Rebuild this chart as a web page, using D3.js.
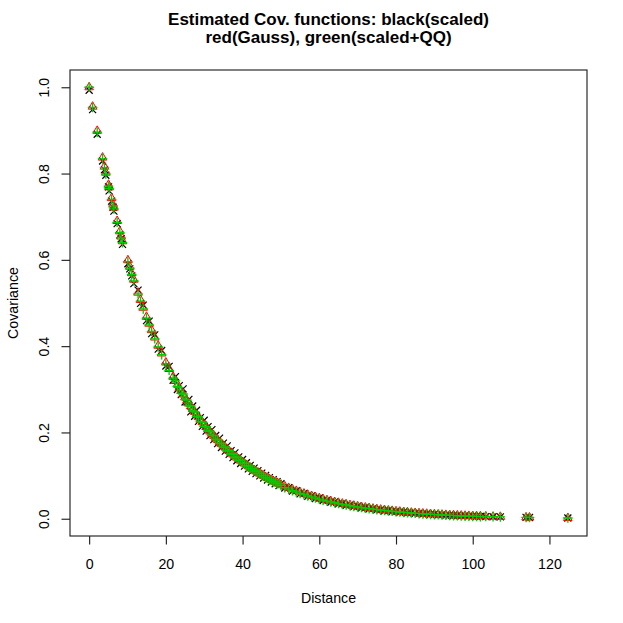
<!DOCTYPE html>
<html>
<head>
<meta charset="utf-8">
<script src="https://cdn.jsdelivr.net/npm/d3@7"></script>
<style>
  body { margin: 0; background: #fff; }
  text { font-family: "Liberation Sans", Arial, Helvetica, sans-serif; }
</style>
</head>
<body>
<div id="viz"></div>
<script>
// distances between location pairs
const distance = [
  0, 0.9, 2.1, 3.5, 4.0, 4.35, 5.05, 5.2, 5.85, 6.25, 6.45, 7.3, 8.0, 8.35, 8.7,
  10.1, 10.6, 11.1, 11.65, 12.75, 13.4, 14.1, 14.95, 15.65, 16.3, 17.1, 18.0, 18.9, 20.0, 20.85, 21.9,
  22.5, 23.0, 23.5, 24.0, 24.5, 25.0, 25.5, 26.0, 26.5, 27.0, 27.5, 28.0, 28.5, 29.0, 29.5, 30.0,
  30.5, 31.0, 31.5, 32.0, 32.5, 33.0, 33.5, 34.0, 34.5, 35.0, 35.5, 36.0, 36.5, 37.0, 37.5, 38.0,
  38.5, 39.0, 39.5, 40.0, 40.5, 41.0, 41.5, 42.0, 42.5, 43.0, 43.5, 44.0, 44.5, 45.0, 45.5, 46.0,
  46.5, 47.0, 47.5, 48.0, 48.5, 49.0, 49.5, 50.0,
  51, 52, 53, 54, 55, 56, 57, 58, 59, 60, 61, 62, 63, 64, 65, 66, 67, 68, 69, 70,
  71, 72, 73, 74, 75, 76, 77, 78, 79, 80, 81, 82, 83, 84, 85, 86, 87, 88, 89, 90,
  91, 92, 93, 94, 95, 96, 97, 98, 99, 100, 101, 102,
  103.4, 105.3, 107.2, 113.9, 114.8, 124.8
]

// black: scaled estimate
const covScaled = [
  0.993, 0.948, 0.891, 0.829, 0.809, 0.796, 0.769, 0.760, 0.736, 0.722, 0.713, 0.684, 0.658, 0.649, 0.636,
  0.591, 0.579, 0.563, 0.545, 0.530, 0.499, 0.495, 0.459, 0.458, 0.429, 0.426, 0.393, 0.390, 0.354, 0.353, 0.321,
  0.3295, 0.2995, 0.3085, 0.2876, 0.3010, 0.2705, 0.2710, 0.2768, 0.2475, 0.2612, 0.2376, 0.2515, 0.2258, 0.2342, 0.2140, 0.2282,
  0.2030, 0.2136, 0.1928, 0.2064, 0.1832, 0.1930, 0.1740, 0.1870, 0.1650, 0.1752, 0.1566, 0.1690, 0.1490, 0.1580, 0.1416, 0.1525,
  0.1345, 0.1434, 0.1280, 0.1373, 0.1218, 0.1298, 0.1156, 0.1236, 0.1099, 0.1172, 0.1044, 0.1116, 0.0993, 0.1058, 0.0944, 0.1003,
  0.0897, 0.0952, 0.0852, 0.0904, 0.0810, 0.0859, 0.0771, 0.0815,
  0.0712, 0.0722, 0.0640, 0.0652, 0.0576, 0.0588, 0.0520, 0.0530, 0.0469, 0.0480, 0.0423, 0.0433, 0.0382, 0.0391, 0.0344, 0.0354, 0.0310, 0.0320, 0.0280, 0.0290,
  0.0252, 0.0260, 0.0228, 0.0235, 0.0205, 0.0212, 0.0186, 0.0192, 0.0168, 0.0173, 0.0151, 0.0156, 0.0137, 0.0141, 0.0123, 0.0127, 0.0111, 0.0115, 0.0100, 0.0104,
  0.0091, 0.0093, 0.0082, 0.0084, 0.0074, 0.0076, 0.0067, 0.0069, 0.0060, 0.0062, 0.0054, 0.0056,
  0.0050, 0.0047, 0.0042, 0.0030, 0.0028, 0.0017
]

// red: Gauss
const covGauss = [
  1.000, 0.955, 0.899, 0.837, 0.816, 0.802, 0.774, 0.768, 0.743, 0.728, 0.721, 0.690, 0.666, 0.654, 0.643,
  0.599, 0.584, 0.569, 0.554, 0.524, 0.507, 0.489, 0.468, 0.452, 0.437, 0.420, 0.401, 0.383, 0.362, 0.347, 0.329,
  0.3192, 0.3112, 0.3034, 0.2958, 0.2884, 0.2811, 0.2741, 0.2672, 0.2605, 0.2540, 0.2476, 0.2414, 0.2354, 0.2295, 0.2237, 0.2181,
  0.2126, 0.2073, 0.2021, 0.1970, 0.1921, 0.1873, 0.1826, 0.1780, 0.1736, 0.1692, 0.1650, 0.1608, 0.1568, 0.1529, 0.1490, 0.1453,
  0.1417, 0.1381, 0.1347, 0.1313, 0.1280, 0.1248, 0.1217, 0.1186, 0.1157, 0.1128, 0.1099, 0.1072, 0.1045, 0.1019, 0.0993, 0.0968,
  0.0944, 0.0920, 0.0897, 0.0875, 0.0853, 0.0832, 0.0811, 0.0790,
  0.0751, 0.0714, 0.0679, 0.0645, 0.0613, 0.0583, 0.0554, 0.0527, 0.0501, 0.0476, 0.0452, 0.0430, 0.0409, 0.0388, 0.0369, 0.0351, 0.0334, 0.0317, 0.0302, 0.0287,
  0.0272, 0.0259, 0.0246, 0.0234, 0.0222, 0.0211, 0.0201, 0.0191, 0.0182, 0.0172, 0.0164, 0.0156, 0.0148, 0.0141, 0.0134, 0.0127, 0.0121, 0.0115, 0.0109, 0.0104,
  0.0099, 0.0094, 0.0089, 0.0085, 0.0081, 0.0077, 0.0073, 0.0069, 0.0066, 0.0063, 0.0059, 0.0057,
  0.0053, 0.0048, 0.0044, 0.0031, 0.0029, 0.0018
]

// green: scaled + QQ
const covQQ = [
  1.000, 0.953, 0.896, 0.834, 0.813, 0.799, 0.771, 0.765, 0.740, 0.725, 0.718, 0.687, 0.663, 0.651, 0.640,
  0.596, 0.581, 0.566, 0.551, 0.521, 0.504, 0.486, 0.465, 0.449, 0.434, 0.417, 0.398, 0.380, 0.359, 0.344, 0.326,
  0.3195, 0.3062, 0.3040, 0.2910, 0.2890, 0.2765, 0.2748, 0.2625, 0.2612, 0.2496, 0.2480, 0.2372, 0.2360, 0.2252, 0.2243, 0.2140,
  0.2132, 0.2035, 0.2026, 0.1933, 0.1926, 0.1838, 0.1831, 0.1746, 0.1741, 0.1660, 0.1655, 0.1578, 0.1572, 0.1500, 0.1494, 0.1426,
  0.1420, 0.1355, 0.1350, 0.1288, 0.1283, 0.1224, 0.1220, 0.1163, 0.1159, 0.1106, 0.1101, 0.1051, 0.1047, 0.0998, 0.0995, 0.0948,
  0.0946, 0.0901, 0.0899, 0.0857, 0.0855, 0.0814, 0.0813, 0.0773,
  0.0722, 0.0686, 0.0651, 0.0619, 0.0588, 0.0558, 0.0530, 0.0504, 0.0479, 0.0455, 0.0432, 0.0410, 0.0390, 0.0370, 0.0352, 0.0334, 0.0318, 0.0302, 0.0287, 0.0273,
  0.0259, 0.0246, 0.0234, 0.0222, 0.0211, 0.0200, 0.0190, 0.0181, 0.0172, 0.0163, 0.0156, 0.0148, 0.0140, 0.0133, 0.0126, 0.0119, 0.0113, 0.0107, 0.0101, 0.0096,
  0.0091, 0.0086, 0.0081, 0.0077, 0.0073, 0.0069, 0.0065, 0.0061, 0.0058, 0.0055, 0.0051, 0.0049,
  0.0051, 0.0046, 0.0042, 0.0030, 0.0028, 0.0017
]

const xTicks = [0, 20, 40, 60, 80, 100, 120]
const yTicks = [0, 0.2, 0.4, 0.6, 0.8, 1.0]
const titleLines = ["Estimated Cov. functions: black(scaled)", "red(Gauss), green(scaled+QQ)"]

const width = 623
const height = 623
const box = { left: 70, right: 587, top: 70, bottom: 536 }

const svg = d3.select("#viz").append("svg")
  .attr("width", width)
  .attr("height", height)

// R style: 4% padding around data range
const xPad = 0.04 * (d3.max(distance) - d3.min(distance))
const x = d3.scaleLinear()
  .domain([d3.min(distance) - xPad, d3.max(distance) + xPad])
  .range([box.left, box.right])

const y = d3.scaleLinear()
  .domain([-0.04, 1.04])
  .range([box.bottom, box.top])

// black x (pch 4)
const cross = 3.5
svg.append("g").selectAll("path")
  .data(distance.map((d, i) => [d, covScaled[i]]))
  .enter().append("path")
    .attr("d", p => {
      const cx = x(p[0]), cy = y(p[1])
      return `M${cx - cross},${cy - cross}L${cx + cross},${cy + cross}M${cx - cross},${cy + cross}L${cx + cross},${cy - cross}`
    })
    .attr("stroke", "#000")
    .attr("stroke-width", 1.2)
    .attr("fill", "none")

// red open triangles (pch 2)
svg.append("g").selectAll("path")
  .data(distance.map((d, i) => [d, covGauss[i]]))
  .enter().append("path")
    .attr("d", p => {
      const cx = x(p[0]), cy = y(p[1])
      return `M${cx},${cy - 5}L${cx + 4.3},${cy + 2.5}L${cx - 4.3},${cy + 2.5}Z`
    })
    .attr("stroke", "#ff0000")
    .attr("stroke-width", 1.0)
    .attr("fill", "none")

// green + (pch 3)
const plus = 4.8
svg.append("g").selectAll("path")
  .data(distance.map((d, i) => [d, covQQ[i]]))
  .enter().append("path")
    .attr("d", p => {
      const cx = x(p[0]), cy = y(p[1])
      return `M${cx - plus},${cy}L${cx + plus},${cy}M${cx},${cy - plus}L${cx},${cy + plus}`
    })
    .attr("stroke", "#00cd00")
    .attr("stroke-width", 1.35)
    .attr("fill", "none")

// box
svg.append("rect")
  .attr("x", box.left)
  .attr("y", box.top)
  .attr("width", box.right - box.left)
  .attr("height", box.bottom - box.top)
  .attr("fill", "none")
  .attr("stroke", "#222")
  .attr("stroke-width", 1.15)

// axes
const xAxis = svg.append("g")
  .attr("transform", `translate(0,${box.bottom})`)
  .call(d3.axisBottom(x).tickValues(xTicks).tickSize(8.5).tickFormat(d3.format("d")))
xAxis.select(".domain").remove()
xAxis.selectAll("line").attr("stroke", "#222").attr("stroke-width", 1.15)
xAxis.selectAll("text")
  .attr("y", 33).attr("dy", 0)
  .attr("fill", "#000")
  .style("font-size", "14.2px")
  .style("font-family", "Liberation Sans, Arial, sans-serif")

const yAxis = svg.append("g")
  .attr("transform", `translate(${box.left},0)`)
  .call(d3.axisLeft(y).tickValues(yTicks).tickSize(8.5).tickFormat(d3.format(".1f")))
yAxis.select(".domain").remove()
yAxis.selectAll("line").attr("stroke", "#222").attr("stroke-width", 1.15)
yAxis.selectAll("text")
  .attr("x", 0).attr("y", -21).attr("dy", 0)
  .attr("transform", "rotate(-90)")
  .attr("text-anchor", "middle")
  .attr("fill", "#000")
  .style("font-size", "14.2px")
  .style("font-family", "Liberation Sans, Arial, sans-serif")

// axis titles
svg.append("text")
  .attr("x", (box.left + box.right) / 2)
  .attr("y", 603)
  .attr("text-anchor", "middle")
  .style("font-size", "14.2px")
  .text("Distance")

svg.append("text")
  .attr("transform", `translate(18,${(box.top + box.bottom) / 2}) rotate(-90)`)
  .attr("text-anchor", "middle")
  .style("font-size", "14.2px")
  .text("Covariance")

// main title
svg.append("g").selectAll("text")
  .data(titleLines)
  .enter().append("text")
    .attr("x", (box.left + box.right) / 2)
    .attr("y", (d, i) => 24.5 + i * 18)
    .attr("text-anchor", "middle")
    .style("font-size", "17px")
    .style("font-weight", "bold")
    .text(d => d)
</script>
</body>
</html>
